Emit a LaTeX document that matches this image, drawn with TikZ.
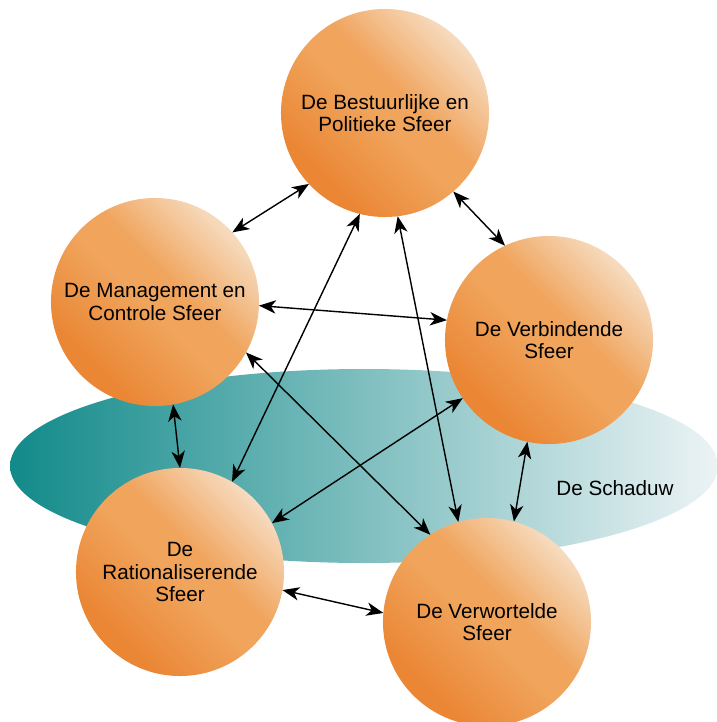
\documentclass[tikz,border=0pt]{standalone}
\usepackage{fontspec}
\setmainfont{Liberation Sans}
\usetikzlibrary{arrows.meta}
\definecolor{schaduwdonker}{RGB}{18,138,138}
\definecolor{schaduwlicht}{RGB}{236,243,245}
\definecolor{sfeerdonker}{RGB}{234,134,52}
\definecolor{sfeermidden}{RGB}{240,164,92}
\definecolor{sfeerlicht}{RGB}{248,234,218}
\pgfdeclareverticalshading{sfeerkleur}{100bp}{color(0bp)=(sfeerdonker); color(28bp)=(sfeerdonker);
    color(48bp)=(sfeermidden); color(56bp)=(sfeermidden); color(80bp)=(sfeerlicht); color(100bp)=(sfeerlicht)}

\begin{document}
\begin{tikzpicture}[x=0.025cm,y=-0.025cm,
        sfeer/.style={circle,minimum size=5.2cm,inner sep=0pt,outer sep=0pt,align=center,
            shading=sfeerkleur,shading angle=-45,
            font=\fontsize{14.7}{16}\selectfont},
        verband/.style={{Stealth[length=12pt,width=9.5pt,inset=3.5pt]}-{Stealth[length=12pt,width=9.5pt,inset=3.5pt]},line width=1pt}]
    \useasboundingbox (0,0) rectangle (716,722);
    % de schaduw
    \shade[left color=schaduwdonker,right color=schaduwlicht] (364,466) ellipse [x radius=354,y radius=97];
    \node[font=\fontsize{14.7}{16}\selectfont] (schaduw) at (615,488) {De Schaduw};
    % de sferen
    \node[sfeer] (bestuur) at (385,113) {De Bestuurlijke en\\Politieke Sfeer};
    \node[sfeer] (management) at (155,302) {De Management en\\Controle Sfeer};
    \node[sfeer] (verbind) at (549,340) {De Verbindende\\Sfeer};
    \node[sfeer] (ratio) at (180,572) {De\\Rationaliserende\\Sfeer};
    \node[sfeer] (wortel) at (487,622) {De Verwortelde\\Sfeer};
    % verbanden
    \draw[verband] (management.42) -- (bestuur.223);
    \draw[verband] (bestuur.311) -- (verbind.115);
    \draw[verband] (management.358) -- (verbind.169);
    \draw[verband] (management.331) -- (wortel.123);
    \draw[verband] (bestuur.256) -- (ratio.60);
    \draw[verband] (bestuur.277) -- (wortel.106);
    \draw[verband] (verbind.214) -- (ratio.28);
    \draw[verband] (management.280) -- (ratio.90);
    \draw[verband] (verbind.258) -- (wortel.75);
    \draw[verband] (ratio.350) -- (wortel.175);
\end{tikzpicture}
\end{document}
